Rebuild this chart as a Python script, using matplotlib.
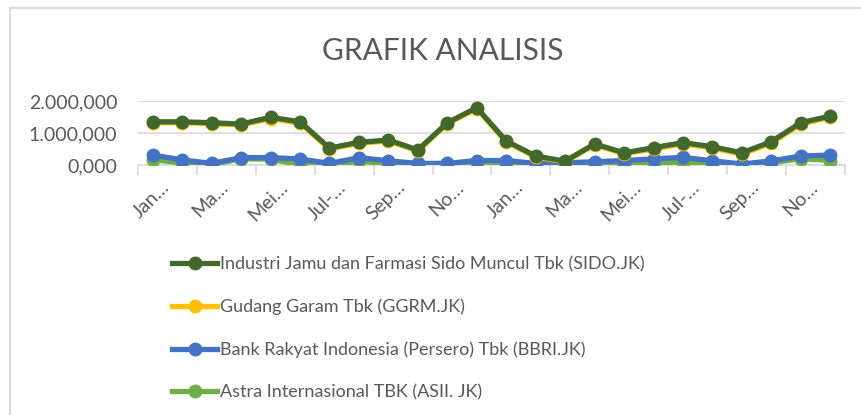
import matplotlib.pyplot as plt
from matplotlib.lines import Line2D
from matplotlib.patches import Rectangle
from matplotlib.transforms import ScaledTranslation

# values in millions (axis labels 0,000 / 1.000,000 / 2.000,000)
sido = [1.35, 1.35, 1.32, 1.28, 1.49, 1.35, 0.53, 0.71, 0.78, 0.47, 1.32, 1.79,
        0.75, 0.28, 0.12, 0.66, 0.38, 0.54, 0.70, 0.57, 0.38, 0.73, 1.32, 1.53]
ggrm = [1.32, 1.32, 1.29, 1.25, 1.45, 1.31, 0.50, 0.68, 0.75, 0.44, 1.29, 1.76,
        0.72, 0.25, 0.10, 0.63, 0.35, 0.50, 0.66, 0.53, 0.34, 0.69, 1.28, 1.49]
bbri = [0.31, 0.16, 0.05, 0.23, 0.23, 0.19, 0.05, 0.23, 0.13, 0.05, 0.05, 0.14,
        0.14, 0.05, 0.07, 0.10, 0.14, 0.19, 0.24, 0.13, 0.03, 0.13, 0.28, 0.31]
asii = [0.17, 0.06, 0.01, 0.20, 0.18, 0.02, 0.00, 0.12, 0.04, 0.04, 0.03, 0.10,
        0.07, 0.03, 0.05, 0.04, 0.00, 0.04, 0.09, 0.03, 0.00, 0.07, 0.20, 0.14]

months = ["Jan…", "Ma…", "Mei…", "Jul-…", "Sep…", "No…"] * 2
y_labels = ["0,000", "1.000,000", "2.000,000"]

names = ["Industri Jamu dan Farmasi Sido Muncul Tbk (SIDO.JK)",
         "Gudang Garam Tbk (GGRM.JK)",
         "Bank Rakyat Indonesia (Persero) Tbk (BBRI.JK)",
         "Astra Internasional TBK (ASII. JK)"]
colors = ["#43682B", "#FFC000", "#4472C4", "#70AD47"]

plt.rcParams["font.family"] = ["Lato", "DejaVu Sans"]
txt = "#595959"

fig = plt.figure(figsize=(8.62, 4.15), dpi=100)
fig.patches.append(Rectangle((10 / 862, -0.1), 1.2, 1 - 8 / 415 + 0.1, transform=fig.transFigure,
                             fill=False, edgecolor="#D9D9D9", linewidth=1.5))

ax = fig.add_axes([138 / 862, 250 / 415, 707 / 862, 64 / 415])
x = range(len(sido))
lw, ms = 3.8, 9
ax.plot(x, asii, color=colors[3], lw=lw, marker="o", ms=ms, zorder=3)
ax.plot(x, bbri, color=colors[2], lw=lw, marker="o", ms=ms, zorder=4)
ax.plot(x, ggrm, color=colors[1], lw=lw, marker="o", ms=ms, zorder=5)
ax.plot(x, sido, color=colors[0], lw=lw, marker="o", ms=ms, zorder=6)

ax.set_xlim(-0.5, len(sido) - 0.5)
ax.set_ylim(0, 2)
ax.set_yticks([0, 1, 2])
ax.set_yticklabels(y_labels, fontsize=14, color=txt)
ax.yaxis.grid(True, color="#D9D9D9", lw=1.2)
ax.tick_params(axis="y", length=0, pad=15)

ax.set_xticks(range(0, len(sido), 2))
ax.set_xticklabels(months, fontsize=14, color=txt, rotation=45,
                   ha="right", va="center", rotation_mode="anchor")
ax.set_xticks([i - 0.5 for i in range(0, len(sido) + 1, 2)], minor=True)
ax.tick_params(axis="x", which="major", length=0, pad=14)
ax.tick_params(axis="x", which="minor", length=7, color="#D9D9D9", width=1.2)
# nudge rotated labels right, like Excel anchors them
shift = ScaledTranslation(14 / 100, 0, fig.dpi_scale_trans)
for lab in ax.get_xticklabels():
    lab.set_transform(lab.get_transform() + shift)
for s in ["top", "right", "left"]:
    ax.spines[s].set_visible(False)
ax.spines["bottom"].set_color("#D9D9D9")
ax.spines["bottom"].set_linewidth(1.2)
ax.set_axisbelow(True)

fig.text(443 / 862, 1 - 51 / 415, "GRAFIK ANALISIS", fontsize=21.5, color=txt,
         ha="center", va="center")

handles = [Line2D([], [], color=c, lw=lw, marker="o", ms=ms) for c in colors]
fig.legend(handles, names, loc="upper left", bbox_to_anchor=(165 / 862, 1 - 249 / 415),
           frameon=False, fontsize=13, labelcolor=txt, handlelength=2.5,
           handletextpad=0.15, labelspacing=1.45, borderaxespad=0)

fig.savefig("out.png", dpi=100)
